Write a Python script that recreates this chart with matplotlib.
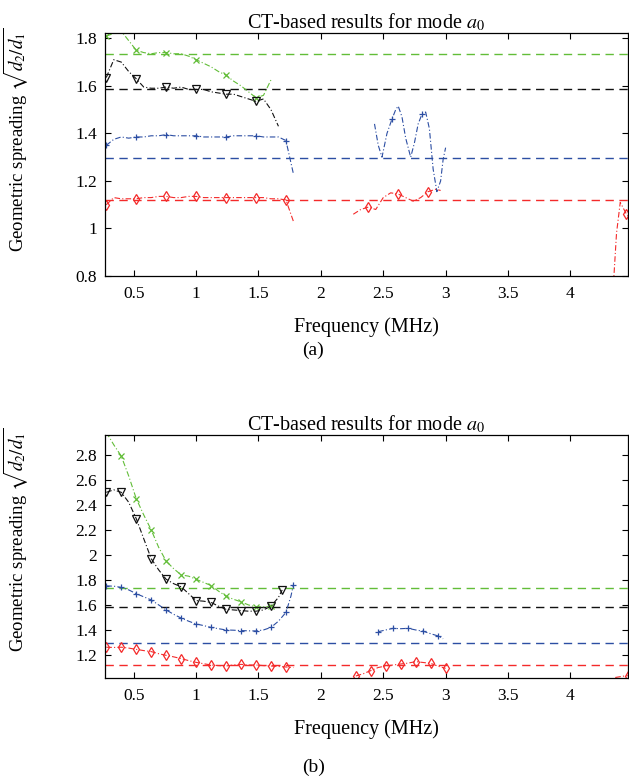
import matplotlib
matplotlib.use("Agg")
import matplotlib.pyplot as plt

plt.rcParams['font.family'] = ['Liberation Serif', 'DejaVu Serif']
plt.rcParams['mathtext.fontset'] = 'stix'

GREEN = '#62bd38'
BLUE = '#2c4ea3'
RED = '#f42a2a'
BLACK = '#111111'

# reference levels (dashed)
ref_green = 1.735
ref_black = 1.585
ref_blue = 1.295
ref_red = 1.12

# ---- panel (a) ----
a_green_f = [0.28, 0.34, 0.40, 0.46, 0.52, 0.58, 0.64, 0.70, 0.76, 0.82, 0.88, 0.94,
             1.00, 1.06, 1.12, 1.18, 1.24, 1.30, 1.36, 1.42, 1.48, 1.54, 1.60]
a_green_v = [1.81, 1.82, 1.83, 1.79, 1.75, 1.74, 1.735, 1.74, 1.74, 1.735, 1.735, 1.725,
             1.71, 1.695, 1.68, 1.66, 1.645, 1.62, 1.60, 1.575, 1.55, 1.56, 1.625]

a_black_f = [0.28, 0.34, 0.40, 0.46, 0.52, 0.58, 0.64, 0.70, 0.76, 0.82, 0.88, 0.94,
             1.00, 1.06, 1.12, 1.18, 1.24, 1.30, 1.36, 1.42, 1.48, 1.54, 1.60, 1.66]
a_black_v = [1.635, 1.71, 1.70, 1.66, 1.63, 1.595, 1.59, 1.59, 1.595, 1.59, 1.595, 1.585,
             1.585, 1.585, 1.575, 1.57, 1.565, 1.565, 1.555, 1.545, 1.535, 1.545, 1.50, 1.43]

a_blue_f = [0.28, 0.34, 0.40, 0.46, 0.52, 0.58, 0.64, 0.70, 0.76, 0.82, 0.88, 0.94, 1.00,
            1.06, 1.12, 1.18, 1.24, 1.30, 1.36, 1.42, 1.48, 1.54, 1.60, 1.66, 1.72, 1.78]
a_blue_v = [1.35, 1.375, 1.385, 1.38, 1.385, 1.385, 1.39, 1.39, 1.395, 1.39, 1.39, 1.39, 1.39,
            1.385, 1.385, 1.385, 1.385, 1.39, 1.39, 1.39, 1.39, 1.385, 1.385, 1.385, 1.37, 1.23]
a_blue2_f = [2.43, 2.46, 2.49, 2.53, 2.57, 2.60, 2.62, 2.65, 2.68, 2.72, 2.75, 2.78,
             2.81, 2.84, 2.87, 2.90, 2.93, 2.96, 2.98, 3.00]
a_blue2_v = [1.44, 1.35, 1.30, 1.40, 1.46, 1.50, 1.515, 1.47, 1.38, 1.30, 1.36, 1.44,
             1.48, 1.49, 1.42, 1.25, 1.155, 1.20, 1.29, 1.34]

a_red_f = [0.28, 0.34, 0.40, 0.46, 0.52, 0.58, 0.64, 0.70, 0.76, 0.82, 0.88, 0.94, 1.00,
           1.06, 1.12, 1.18, 1.24, 1.30, 1.36, 1.42, 1.48, 1.54, 1.60, 1.66, 1.72, 1.78]
a_red_v = [1.10, 1.13, 1.125, 1.125, 1.125, 1.13, 1.13, 1.135, 1.135, 1.13, 1.13, 1.135, 1.135,
           1.13, 1.13, 1.13, 1.13, 1.13, 1.13, 1.13, 1.13, 1.13, 1.125, 1.125, 1.12, 1.03]
a_red2_f = [2.26, 2.32, 2.38, 2.44, 2.50, 2.56, 2.62, 2.68, 2.74, 2.80, 2.86, 2.92, 2.96]
a_red2_v = [1.06, 1.08, 1.09, 1.08, 1.13, 1.15, 1.145, 1.13, 1.115, 1.13, 1.155, 1.165, 1.16]
a_red3_f = [4.34, 4.37, 4.40, 4.45, 4.47]
a_red3_v = [0.72, 0.98, 1.11, 1.06, 1.05]

# ---- panel (b) ----
b_green_f = a_green_f
b_green_v = [2.98, 2.88, 2.79, 2.63, 2.45, 2.32, 2.20, 2.06, 1.95, 1.89, 1.84, 1.83,
             1.805, 1.78, 1.755, 1.71, 1.67, 1.645, 1.625, 1.60, 1.585, 1.585, 1.59]

b_black_f = [0.28, 0.34, 0.40, 0.46, 0.52, 0.58, 0.64, 0.70, 0.76, 0.82, 0.88, 0.94,
             1.00, 1.06, 1.12, 1.18, 1.24, 1.30, 1.36, 1.42, 1.48, 1.54, 1.60, 1.66, 1.69]
b_black_v = [2.50, 2.52, 2.50, 2.42, 2.29, 2.13, 1.97, 1.88, 1.805, 1.77, 1.745, 1.69,
             1.635, 1.63, 1.62, 1.59, 1.565, 1.56, 1.555, 1.55, 1.55, 1.56, 1.59, 1.66, 1.72]

b_blue_f = [0.28, 0.34, 0.40, 0.46, 0.52, 0.58, 0.64, 0.70, 0.76, 0.82, 0.88, 0.94, 1.00,
            1.06, 1.12, 1.18, 1.24, 1.30, 1.36, 1.42, 1.48, 1.54, 1.60, 1.66, 1.72, 1.76, 1.78]
b_blue_v = [1.752, 1.75, 1.74, 1.72, 1.69, 1.665, 1.64, 1.60, 1.56, 1.525, 1.495, 1.47, 1.448,
            1.435, 1.42, 1.41, 1.40, 1.398, 1.395, 1.393, 1.392, 1.40, 1.42, 1.47, 1.54, 1.67, 1.76]
b_blue2_f = [2.46, 2.52, 2.58, 2.64, 2.70, 2.76, 2.82, 2.88, 2.94, 2.98]
b_blue2_v = [1.386, 1.40, 1.413, 1.41, 1.413, 1.40, 1.39, 1.37, 1.352, 1.33]

b_red_f = a_red_f
b_red_v = [1.262, 1.26, 1.262, 1.255, 1.245, 1.235, 1.227, 1.21, 1.197, 1.185, 1.171, 1.155, 1.141,
           1.13, 1.12, 1.115, 1.112, 1.12, 1.125, 1.12, 1.12, 1.115, 1.112, 1.108, 1.104, 1.10]
b_red2_f = [2.28, 2.34, 2.40, 2.46, 2.52, 2.58, 2.64, 2.70, 2.76, 2.82, 2.88, 2.94, 3.00]
b_red2_v = [1.032, 1.05, 1.075, 1.10, 1.112, 1.12, 1.128, 1.135, 1.147, 1.14, 1.133, 1.11, 1.093]
b_red3_f = [4.36, 4.42, 4.46]
b_red3_v = [1.02, 1.03, 1.035]

x_ticks = [0.5, 1, 1.5, 2, 2.5, 3, 3.5, 4]
x_labels = ['0.5', '1', '1.5', '2', '2.5', '3', '3.5', '4']
a_yticks = [0.8, 1, 1.2, 1.4, 1.6, 1.8]
a_ylabels = ['0.8', '1', '1.2', '1.4', '1.6', '1.8']
b_yticks = [1.2, 1.4, 1.6, 1.8, 2, 2.2, 2.4, 2.6, 2.8]
b_ylabels = ['1.2', '1.4', '1.6', '1.8', '2', '2.2', '2.4', '2.6', '2.8']


def curve(ax, f, v, color, marker, every, ms, mew=0.9):
    ax.plot(f, v, linestyle=(0, (5, 2, 1, 2)), color=color, lw=0.8,
            marker=marker, markevery=every, ms=ms, mfc='none', mec=color, mew=mew)


def refs(ax):
    for val, c in [(ref_green, GREEN), (ref_black, BLACK), (ref_blue, BLUE), (ref_red, RED)]:
        ax.axhline(val, color=c, ls=(0, (6, 4)), lw=1.0)


def style(ax, yticks, ylabels, ylim, label_y):
    ax.set_xlim(0.27, 4.46)
    ax.set_ylim(*ylim)
    ax.set_xticks(x_ticks)
    ax.set_xticklabels(x_labels)
    ax.set_yticks(yticks)
    ax.set_yticklabels(ylabels)
    ax.tick_params(direction='in', top=True, right=True, labelsize=12.5, length=4, width=0.8)
    ax.tick_params(axis='x', pad=7)
    ax.tick_params(axis='y', pad=6)
    ax.set_title(r'CT-based results for mode $a_0$', fontsize=14.5, pad=3)
    ax.set_xlabel('Frequency (MHz)', fontsize=14.5, labelpad=11)
    ax.set_ylabel(r'Geometric spreading $\sqrt{d_2/d_1}$', fontsize=13.5)
    ax.yaxis.set_label_coords(-0.143, label_y)
    for s in ax.spines.values():
        s.set_linewidth(0.9)


fig = plt.figure(figsize=(6.29, 7.82), dpi=100)
ax1 = fig.add_axes([0.167, 0.647, 0.831, 0.311])
ax2 = fig.add_axes([0.167, 0.133, 0.831, 0.311])

# panel (a)
refs(ax1)
curve(ax1, a_green_f, a_green_v, GREEN, 'x', 4, 4)
curve(ax1, a_black_f, a_black_v, BLACK, 'v', 4, 6)
curve(ax1, a_blue_f, a_blue_v, BLUE, '+', 4, 5)
curve(ax1, a_blue2_f, a_blue2_v, BLUE, '+', (4, 8), 5)
curve(ax1, a_red_f, a_red_v, RED, 'd', 4, 5)
curve(ax1, a_red2_f, a_red2_v, RED, 'd', (2, 4), 5)
curve(ax1, a_red3_f, a_red3_v, RED, 'd', [3], 5)
style(ax1, a_yticks, a_ylabels, (0.8, 1.823), 0.56)

# panel (b)
refs(ax2)
curve(ax2, b_green_f, b_green_v, GREEN, 'x', 2, 4)
curve(ax2, b_black_f, b_black_v, BLACK, 'v', 2, 6)
curve(ax2, b_blue_f, b_blue_v, BLUE, '+', 2, 5)
curve(ax2, b_blue2_f, b_blue2_v, BLUE, '+', 2, 5)
curve(ax2, b_red_f, b_red_v, RED, 'd', 2, 5)
curve(ax2, b_red2_f, b_red2_v, RED, 'd', 2, 5)
curve(ax2, b_red3_f, b_red3_v, RED, 'd', [2], 5)
style(ax2, b_yticks, b_ylabels, (1.016, 2.96), 0.568)

fig.text(0.498, 1 - 350 / 782, '(a)', ha='center', va='center', fontsize=14)
fig.text(0.498, 1 - 767 / 782, '(b)', ha='center', va='center', fontsize=14)

fig.savefig('out.png', dpi=100)
